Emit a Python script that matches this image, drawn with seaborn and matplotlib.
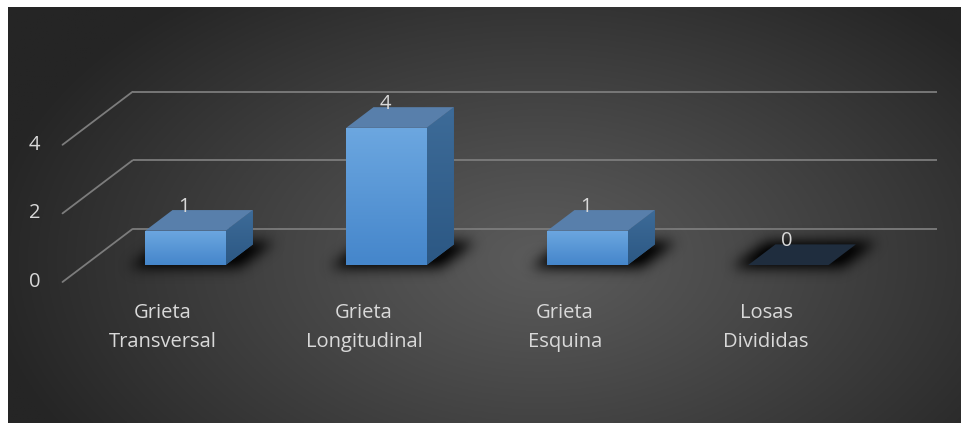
import numpy as np
import matplotlib
matplotlib.use("Agg")
import matplotlib.pyplot as plt
import seaborn as sns
from matplotlib.patches import Polygon
from matplotlib.colors import LinearSegmentedColormap

# ---------------- data ----------------
categories = ["Grieta\nTransversal", "Grieta\nLongitudinal", "Grieta\nEsquina", "Losas\nDivididas"]
values = [1, 4, 1, 0]
y_ticks = [0, 2, 4]

# ---------------- style / geometry ----------------
W, H = 961, 423
PX_X = 201.0      # pixels per category
PX_Y = 34.3       # pixels per value unit
X0_PX, Y0_PX = 163.0, 282.0
DX = 70.0 / PX_X  # depth offset (x) for full floor depth
DY = 53.0 / PX_Y  # depth offset (y) for full floor depth
Z0, Z1 = 0.32, 0.71
HALF_W = 0.2
TEXT = "#d9d9d9"
GRID = "#7c7c7c"
FONT = ["Open Sans", "DejaVu Sans"]
FS = 14.5

sns.set_theme(style="white")
plt.rcParams["font.family"] = FONT


def P(x, v, z):
    return (x + z * DX, v + z * DY)


def blur(a, sigma):
    rad = int(3 * sigma)
    k = np.exp(-0.5 * (np.arange(-rad, rad + 1) / sigma) ** 2)
    k /= k.sum()
    a = np.apply_along_axis(lambda m: np.convolve(m, k, mode="same"), 1, a)
    a = np.apply_along_axis(lambda m: np.convolve(m, k, mode="same"), 0, a)
    return a


fig = plt.figure(figsize=(W / 100, H / 100), dpi=100, facecolor="white")

# background radial gradient
bg = fig.add_axes([8 / W, 0, 952 / W, 416 / H])
bg.set_axis_off()
xx, yy = np.meshgrid(np.linspace(8, 960, 480), np.linspace(7, 423, 210))
r = np.sqrt(((xx - 540) / 560) ** 2 + ((yy - 260) / 340) ** 2)
t = np.clip(r, 0, 1)
g = (0x5b + (0x25 - 0x5b) * t ** 1.1) / 255.0
img = np.dstack([g, g, g])
bg.imshow(img, extent=[0, 1, 0, 1], aspect="auto", origin="upper")
bg.set_xlim(0, 1)
bg.set_ylim(0, 1)

ax = fig.add_axes([0, 0, 1, 1])
ax.patch.set_alpha(0)

sns.barplot(x=categories, y=values, ax=ax, width=2 * HALF_W, color="#5b9bd5",
            saturation=1, zorder=4, linewidth=0, errorbar=None)

xmin = -X0_PX / PX_X
xmax = (W - X0_PX) / PX_X
ymin = -(H - Y0_PX) / PX_Y
ymax = Y0_PX / PX_Y

# gridlines: back wall + left wall
for v in y_ticks:
    bx0, by0 = P(-0.5, v, 1)
    bx1, by1 = P(3.5, v, 1)
    ax.plot([bx0, bx1], [by0, by1], color=GRID, lw=1.3, zorder=1, solid_capstyle="butt")
    fx, fy = P(-0.5, v, 0)
    ax.plot([fx, bx0], [fy, by0], color=GRID, lw=1.3, zorder=1)
    ax.text(fx - 0.14, fy, str(v), ha="center", va="center", color=TEXT,
            fontsize=FS, family=FONT)

# soft floor shadows (blurred footprint of each bar)
Xc = xmin + (np.arange(W) + 0.5) / W * (xmax - xmin)
Yc = ymax - (np.arange(H) + 0.5) / H * (ymax - ymin)
XX, YY = np.meshgrid(Xc, Yc)
ZZ = YY / DY
mask = np.zeros((H, W))
for c, v in enumerate(values):
    xr = XX - ZZ * DX
    inside = (ZZ >= Z0 - 0.05) & (ZZ <= Z1 + 0.04) & \
             (xr >= c - HALF_W - 0.06) & (xr <= c + HALF_W + 0.09)
    mask[inside] = 1.0
sh = np.clip(blur(mask, 6.5) * 1.2, 0, 1) * 0.9
shadow = np.zeros((H, W, 4))
shadow[..., 3] = sh
ax.imshow(shadow, extent=[xmin, xmax, ymin, ymax], aspect="auto", origin="upper",
          zorder=2, interpolation="bilinear")

front_cmap = LinearSegmentedColormap.from_list("front", ["#4586cb", "#6ca7e0"])
side_cmap = LinearSegmentedColormap.from_list("side", ["#2c5884", "#3d6b98"])
grad = np.linspace(1, 0, 100).reshape(-1, 1)

bars = list(ax.patches)
for i, (p, v) in enumerate(zip(bars, values)):
    c = i
    # front face from seaborn bar, moved to bar depth
    p.set_x(p.get_x() + Z0 * DX)
    p.set_y(Z0 * DY)
    if v > 0:
        x0, x1 = p.get_x(), p.get_x() + p.get_width()
        y0, y1 = p.get_y(), p.get_y() + p.get_height()
        im = ax.imshow(grad, extent=[x0, x1, y0, y1], cmap=front_cmap, aspect="auto",
                       zorder=4.1, interpolation="bilinear")
        im.set_clip_path(p)

        # side face
        side = [P(c + HALF_W, 0, Z0), P(c + HALF_W, v, Z0), P(c + HALF_W, v, Z1), P(c + HALF_W, 0, Z1)]
        sp = Polygon(side, closed=True, facecolor="#35628f", edgecolor="none", zorder=4)
        ax.add_patch(sp)
        sx = [q[0] for q in side]
        sy = [q[1] for q in side]
        im2 = ax.imshow(grad, extent=[min(sx), max(sx), min(sy), max(sy)], cmap=side_cmap,
                        aspect="auto", zorder=4.1, interpolation="bilinear")
        im2.set_clip_path(sp)
        top_color = "#587fab"
    else:
        top_color = "#1f2d3e"

    top = [P(c - HALF_W, v, Z0), P(c + HALF_W, v, Z0), P(c + HALF_W, v, Z1), P(c - HALF_W, v, Z1)]
    ax.add_patch(Polygon(top, closed=True, facecolor=top_color, edgecolor="none", zorder=4.2))

    # value label
    ax.text(c + 0.105, v + 1.2, str(v), ha="center", va="center", color=TEXT,
            fontsize=FS, family=FONT, zorder=6)

    # category label
    ax.text(c, -1.33, categories[i], ha="center", va="center", color=TEXT,
            fontsize=FS, family=FONT, linespacing=1.55, zorder=6)

ax.set_xlim(xmin, xmax)
ax.set_ylim(ymin, ymax)
ax.set_axis_off()

fig.savefig("out.png", dpi=100, facecolor="white")
